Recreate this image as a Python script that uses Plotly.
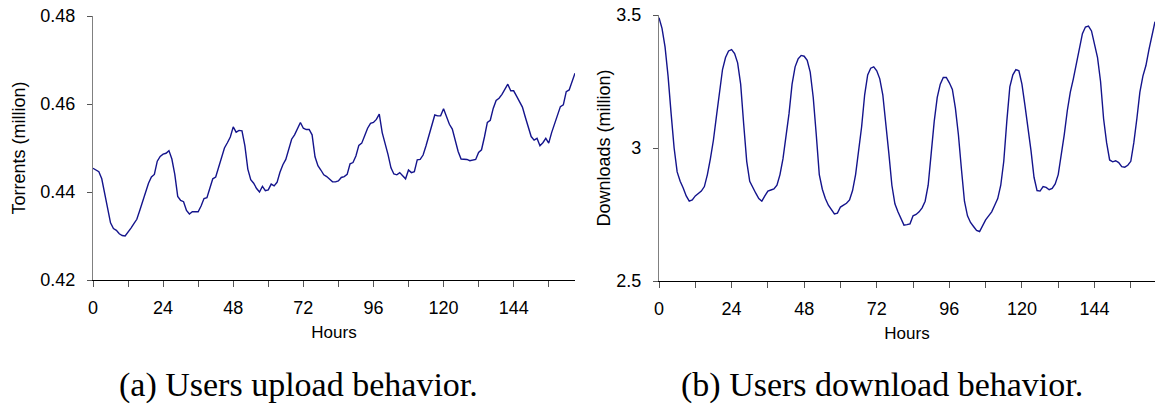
import plotly.graph_objects as go
from plotly.subplots import make_subplots

# ---------------- data ----------------
hours_up = list(range(0, 166))
torrents = [
    0.4454, 0.4450, 0.4446, 0.4430, 0.4395, 0.4360, 0.4330, 0.4317, 0.4313, 0.4305,
    0.4301, 0.4300, 0.4308, 0.4318, 0.4328, 0.4338, 0.4358, 0.4380, 0.4398, 0.4420,
    0.4434, 0.4440, 0.4470, 0.4481, 0.4486, 0.4488, 0.4494, 0.4475, 0.4440, 0.4390,
    0.4381, 0.4378, 0.4358, 0.4350, 0.4355, 0.4355, 0.4355, 0.4368, 0.4385, 0.4387,
    0.4410, 0.4430, 0.4434, 0.4456, 0.4475, 0.4500, 0.4512, 0.4525, 0.4548, 0.4536,
    0.4540, 0.4539, 0.4505, 0.4452, 0.4428, 0.4420, 0.4408, 0.4400, 0.4413, 0.4403,
    0.4405, 0.4418, 0.4414, 0.4422, 0.4445, 0.4462, 0.4474, 0.4495, 0.4520, 0.4530,
    0.4545, 0.4558, 0.4545, 0.4542, 0.4542, 0.4530, 0.4480, 0.4460, 0.4450, 0.4439,
    0.4435, 0.4430, 0.4423, 0.4423, 0.4425, 0.4433, 0.4435, 0.4440, 0.4464, 0.4467,
    0.4482, 0.4506, 0.4511, 0.4528, 0.4545, 0.4556, 0.4558, 0.4565, 0.4577, 0.4535,
    0.4512, 0.4485, 0.4455, 0.4441, 0.4439, 0.4444, 0.4437, 0.4430, 0.4450, 0.4444,
    0.4446, 0.4473, 0.4474, 0.4484, 0.4505, 0.4530, 0.4552, 0.4575, 0.4573, 0.4573,
    0.4589, 0.4572, 0.4554, 0.4543, 0.4515, 0.4492, 0.4475, 0.4475, 0.4474, 0.4471,
    0.4472, 0.4474, 0.4490, 0.4496, 0.4525, 0.4558, 0.4563, 0.4590, 0.4608, 0.4613,
    0.4622, 0.4635, 0.4645, 0.4630, 0.4630, 0.4618, 0.4605, 0.4593, 0.4570, 0.4548,
    0.4526, 0.4518, 0.4522, 0.4505, 0.4512, 0.4522, 0.4511, 0.4535, 0.4555, 0.4570,
    0.4594, 0.4598, 0.4628, 0.4632, 0.4652, 0.4670,
]

hours_down = list(range(0, 165))
downloads = [
    3.49, 3.45, 3.38, 3.27, 3.13, 3.00, 2.91, 2.875, 2.85, 2.82,
    2.80, 2.805, 2.82, 2.83, 2.838, 2.855, 2.90, 2.96, 3.03, 3.12,
    3.22, 3.295, 3.34, 3.365, 3.37, 3.355, 3.32, 3.24, 3.09, 2.95,
    2.875, 2.85, 2.83, 2.81, 2.80, 2.82, 2.838, 2.842, 2.846, 2.86,
    2.90, 2.96, 3.04, 3.13, 3.24, 3.305, 3.335, 3.348, 3.345, 3.33,
    3.285, 3.19, 3.05, 2.90, 2.845, 2.81, 2.785, 2.77, 2.752, 2.755,
    2.778, 2.785, 2.792, 2.805, 2.84, 2.90, 2.98, 3.08, 3.20, 3.275,
    3.30, 3.305, 3.29, 3.26, 3.20, 3.10, 2.98, 2.86, 2.79, 2.76,
    2.735, 2.71, 2.712, 2.715, 2.745, 2.75, 2.76, 2.775, 2.80, 2.86,
    2.98, 3.10, 3.19, 3.24, 3.265, 3.265, 3.245, 3.22, 3.15, 3.05,
    2.92, 2.80, 2.745, 2.72, 2.705, 2.69, 2.686, 2.71, 2.73, 2.745,
    2.76, 2.785, 2.81, 2.86, 2.95, 3.10, 3.23, 3.275, 3.295, 3.29,
    3.24, 3.16, 3.08, 2.99, 2.89, 2.84, 2.838, 2.855, 2.852, 2.843,
    2.848, 2.865, 2.90, 2.97, 3.05, 3.14, 3.21, 3.26, 3.32, 3.38,
    3.43, 3.455, 3.458, 3.44, 3.395, 3.34, 3.25, 3.11, 3.02, 2.955,
    2.948, 2.952, 2.945, 2.93, 2.928, 2.935, 2.95, 3.02, 3.11, 3.21,
    3.27, 3.31, 3.37, 3.43, 3.475,
]

x_tickvals = [0, 12, 24, 36, 48, 60, 72, 84, 96, 108, 120, 132, 144, 156]
x_ticktext = ["0", "", "24", "", "48", "", "72", "", "96", "", "120", "", "144", ""]

y1_tickvals = [0.42, 0.44, 0.46, 0.48]
y1_ticktext = ["0.42", "0.44", "0.46", "0.48"]
y2_tickvals = [2.5, 3.0, 3.5]
y2_ticktext = ["2.5", "3", "3.5"]

y1_title = "Torrents (million)"
y2_title = "Downloads (million)"
x_title = "Hours"
captions = ["(a) Users upload behavior.", "(b) Users download behavior."]

# ---------------- figure ----------------
W, H = 1156, 410
LINE = "#14148c"
FONT = "Liberation Sans, Arial, sans-serif"
SERIF = "Liberation Serif, Times New Roman, serif"

fig = make_subplots(rows=1, cols=2)
fig.add_trace(go.Scatter(x=hours_up, y=torrents, mode="lines",
                         line=dict(color=LINE, width=1.4), showlegend=False), row=1, col=1)
fig.add_trace(go.Scatter(x=hours_down, y=downloads, mode="lines",
                         line=dict(color=LINE, width=1.4), showlegend=False), row=1, col=2)

common_x = dict(
    tickmode="array", tickvals=x_tickvals, ticktext=x_ticktext,
    ticks="outside", ticklen=6, tickwidth=1, tickcolor="#555555",
    showline=True, linecolor="#000000", linewidth=1,
    showgrid=False, zeroline=False, automargin=False,
    tickfont=dict(family=FONT, size=18, color="#000000"),
    ticklabelstandoff=5,
    title=dict(text=x_title, font=dict(family=FONT, size=17, color="#000000"), standoff=9),
)
common_y = dict(
    ticks="outside", ticklen=5, tickwidth=1, tickcolor="#555555",
    showline=True, linecolor="#808080", linewidth=1.2,
    showgrid=False, zeroline=False, automargin=False,
    tickfont=dict(family=FONT, size=18, color="#000000"),
    ticklabelstandoff=8,
)

fig.update_xaxes(common_x)
fig.update_yaxes(common_y)

fig.update_layout(
    width=W, height=H,
    margin=dict(l=0, r=0, t=0, b=0, autoexpand=False),
    paper_bgcolor="white", plot_bgcolor="white",
    xaxis=dict(domain=[93 / W, 575 / W], range=[0, 165]),
    xaxis2=dict(domain=[659 / W, 1155 / W], range=[0, 164]),
    yaxis=dict(domain=[1 - 280 / H, 1 - 16 / H], range=[0.42, 0.48],
               tickmode="array", tickvals=y1_tickvals, ticktext=y1_ticktext,
               title=dict(text=y1_title, font=dict(family=FONT, size=18, color="#000000"), standoff=9)),
    yaxis2=dict(domain=[1 - 281 / H, 1 - 15 / H], range=[2.5, 3.5],
                tickmode="array", tickvals=y2_tickvals, ticktext=y2_ticktext,
                title=dict(text=y2_title, font=dict(family=FONT, size=18, color="#000000"), standoff=0)),
)

fig.add_annotation(text=captions[0], xref="paper", yref="paper", x=298 / W, y=1 - 385 / H,
                   showarrow=False, xanchor="center", yanchor="middle",
                   font=dict(family=SERIF, size=34, color="#000000"))
fig.add_annotation(text=captions[1], xref="paper", yref="paper", x=882 / W, y=1 - 385 / H,
                   showarrow=False, xanchor="center", yanchor="middle",
                   font=dict(family=SERIF, size=34, color="#000000"))

fig.write_html("out.html",
               config={"displayModeBar": False},
               post_script="document.body.style.margin='0';document.body.style.overflow='hidden';")
